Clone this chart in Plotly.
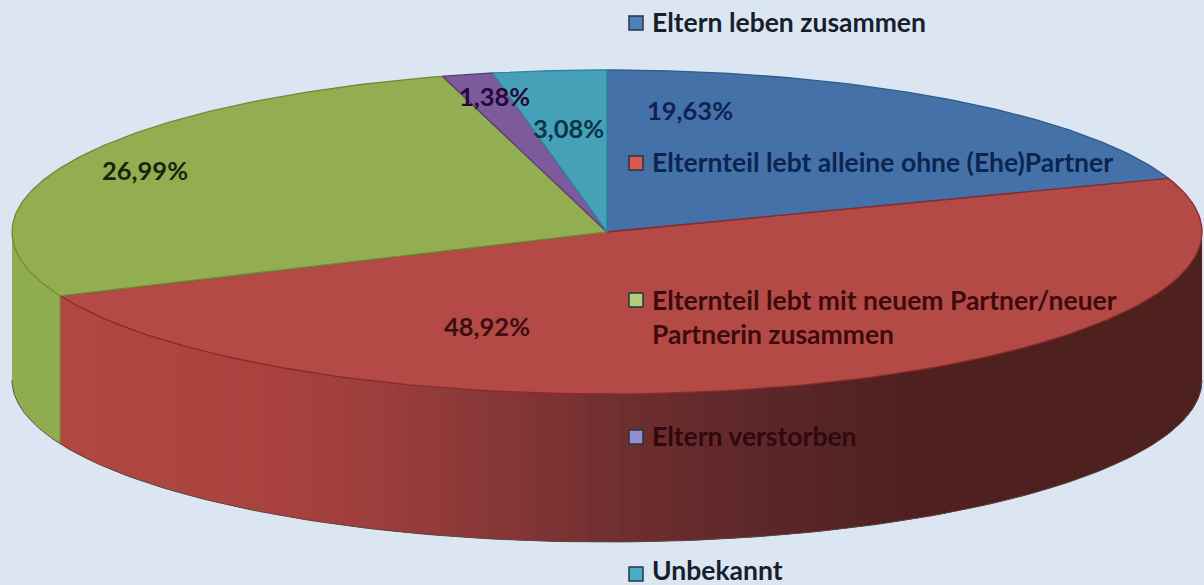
import numpy as np
import plotly.graph_objects as go

categories = ["Eltern leben zusammen", "Elternteil lebt alleine ohne (Ehe)Partner",
              "Elternteil lebt mit neuem Partner/neuer<br>Partnerin zusammen",
              "Eltern verstorben", "Unbekannt"]
shares = [19.63, 48.92, 26.99, 1.38, 3.08]
value_labels = ["19,63%", "48,92%", "26,99%", "1,38%", "3,08%"]
top_colors = ["#4472A8", "#B34A46", "#93AE50", "#7D5A9C", "#45A0B8"]
edge_colors = ["#2F5C8C", "#8A2A28", "#6F8A38", "#5A3F78", "#2F86A0"]
legend_colors = ["#4F81BD", "#D9584F", "#B5CC78", "#9090D0", "#4BACC6"]
legend_text_colors = ["#16202C", "#0C2450", "#3F0A0C", "#300810", "#16202C"]
value_text_colors = ["#0E2252", "#3C0E12", "#18240C", "#24083A", "#0A3448"]

CX, CY, RX, RY, DEPTH = 607.0, 232.0, 595.0, 162.0, 148.0
BG = "#DCE6F2"

# side shading of the red wedge: x pixel -> colour
grad_x = [60, 300, 450, 600, 750, 900, 1204]
grad_r = [178, 168, 145, 115, 95, 80, 78]
grad_g = [72, 66, 58, 48, 40, 33, 32]
grad_b = [66, 62, 58, 48, 42, 32, 30]

cum = np.concatenate([[0], np.cumsum(shares)]) / sum(shares) * 2 * np.pi


def ex(t):
    return CX + RX * np.sin(t)


def ey(t):
    return CY - RY * np.cos(t)


fig = go.Figure()


def poly(x, y, fill, line=None, width=1):
    fig.add_trace(go.Scatter(x=list(x), y=list(y), mode="lines", fill="toself", fillcolor=fill,
                             line=dict(color=line or fill, width=width), hoverinfo="skip",
                             showlegend=False))


def side_strip(t0, t1, color):
    ts = np.linspace(t0, t1, 6)
    poly(np.r_[ex(ts), ex(ts[::-1])], np.r_[ey(ts), ey(ts[::-1]) + DEPTH], color, width=0)


# side wall: red wedge, painted from the right extreme (90 deg) to its end,
# each strip overlapping the next so no seams show
red_end = cum[2]
steps = np.linspace(np.pi / 2, red_end, 100)
for i in range(len(steps) - 1):
    a, b = steps[i], steps[min(i + 3, len(steps) - 1)]
    xm = ex((steps[i] + steps[i + 1]) / 2)
    c = "rgb(%d,%d,%d)" % (np.interp(xm, grad_x, grad_r), np.interp(xm, grad_x, grad_g),
                           np.interp(xm, grad_x, grad_b))
    side_strip(a, b, c)
# side wall: green wedge, to the left extreme
side_strip(red_end, 1.5 * np.pi, "#90AC50")
fig.add_trace(go.Scatter(x=[ex(red_end), ex(red_end)], y=[ey(red_end), ey(red_end) + DEPTH], mode="lines",
                         line=dict(color="#7A7A3A", width=1.2), hoverinfo="skip", showlegend=False))
# lower rim
ts = np.linspace(np.pi / 2, 1.5 * np.pi, 200)
fig.add_trace(go.Scatter(x=ex(ts), y=ey(ts) + DEPTH, mode="lines", line=dict(color="#5C4A44", width=1),
                         hoverinfo="skip", showlegend=False))

# top faces
for i in range(len(shares)):
    ts = np.linspace(cum[i], cum[i + 1], 120)
    poly(np.r_[CX, ex(ts), CX], np.r_[CY, ey(ts), CY], top_colors[i], edge_colors[i], 1.3)

# value labels
label_pos = [(690, 110), (487, 326), (145, 170), (494, 96), (568, 128)]
for txt, (x, y), col in zip(value_labels, label_pos, value_text_colors):
    fig.add_annotation(x=x, y=y, text=txt, showarrow=False, xanchor="center", yanchor="middle",
                       font=dict(family="Lato", size=25.5, color=col, weight="bold"))

# legend
legend_pos = [(636, 23), (636, 163), (636, 300), (636, 437), (636, 571)]
for txt, (x, y), mc, tc in zip(categories, legend_pos, legend_colors, legend_text_colors):
    fig.add_trace(go.Scatter(x=[x], y=[y + (3 if y > 560 else 0)], mode="markers", hoverinfo="skip",
                             showlegend=False,
                             marker=dict(symbol="square", size=14, color=mc,
                                         line=dict(color="#2A3440", width=1.5))))
    two = "<br>" in txt
    fig.add_annotation(x=x + 14, y=y - 1 + (18 if two else 0), text=txt, showarrow=False, xanchor="left",
                       yanchor="middle", align="left",
                       font=dict(family="Lato", size=26.5, color=tc, weight="bold"))

fig.update_layout(width=1204, height=585, margin=dict(l=0, r=0, t=0, b=0),
                  paper_bgcolor=BG, plot_bgcolor=BG,
                  xaxis=dict(range=[0, 1204], visible=False, fixedrange=True),
                  yaxis=dict(range=[585, 0], visible=False, fixedrange=True))
fig.write_html("out.html", config=dict(displayModeBar=False),
               post_script="document.body.style.margin='0';document.body.style.overflow='hidden';"
                           "document.body.style.background='%s';" % BG)
